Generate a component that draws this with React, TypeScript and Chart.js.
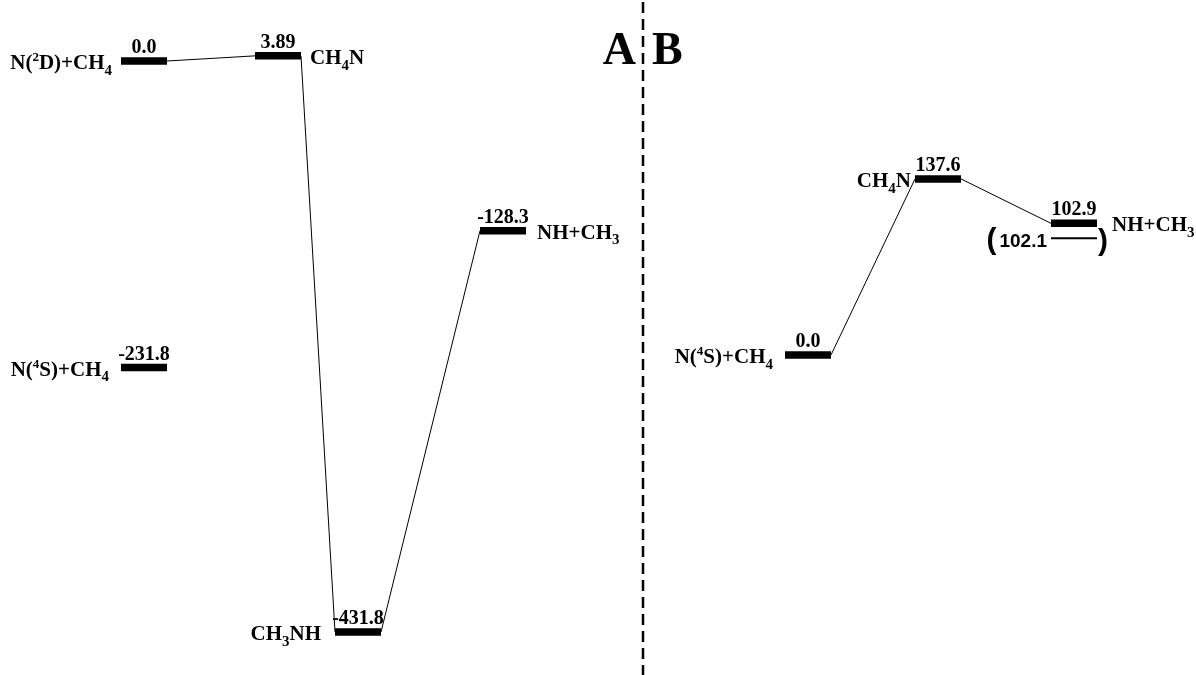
import React, { useEffect, useRef } from "react";
import { Chart, registerables } from "chart.js";

Chart.register(...registerables);

// ---------- DATA ----------
// Panel A: N(2D)+CH4 surface (energies in kJ/mol)
const speciesA = ["N(^2D)+CH_4", "CH_4N", "CH_3NH", "NH+CH_3", "N(^4S)+CH_4"];
const energiesA = [0.0, 3.89, -431.8, -128.3, -231.8];
const energyLabelsA = ["0.0", "3.89", "-431.8", "-128.3", "-231.8"];
const pathA = [[0, 1], [1, 2], [2, 3]];

// Panel B: N(4S)+CH4 surface
const speciesB = ["N(^4S)+CH_4", "CH_4N", "NH+CH_3"];
const energiesB = [0.0, 137.6, 102.9];
const energyLabelsB = ["0.0", "137.6", "102.9"];
const pathB = [[0, 1], [1, 2]];
const altEnergyB = 102.1; // value in parentheses for NH+CH3
const altLabelB = "102.1";

const panelNames = ["A", "B"];

// ---------- LAYOUT (reaction coordinate positions, styling) ----------
const rcA = [144, 278, 358, 503, 144];
const sideA = ["left", "right", "left", "right", "left"];
const rcB = [808, 938, 1074];
const sideB = ["left", "left", "right"];
const gapA = [9, 9, 14, 11, 12];
const gapB = [12, 4, 15];
const halfW = 23;
const dividerRc = 643;
const xRange = [0, 1196];
const yARange = [-464.3, 46.13];
const yBRange = [-250.2, 277.5];
const altOffsetPx = 14;

const SERIF = '"Liberation Serif", "Times New Roman", serif';
const SANS = '"Liberation Sans", Arial, sans-serif';

type Part = { t: string; k: "n" | "sub" | "sup" };
function parse(s: string): Part[] {
  const parts: Part[] = [];
  let buf = "";
  for (let i = 0; i < s.length; i++) {
    const c = s[i];
    if ((c === "_" || c === "^") && i + 1 < s.length) {
      if (buf) parts.push({ t: buf, k: "n" });
      buf = "";
      parts.push({ t: s[i + 1], k: c === "_" ? "sub" : "sup" });
      i++;
    } else buf += c;
  }
  if (buf) parts.push({ t: buf, k: "n" });
  return parts;
}

function drawRich(ctx: CanvasRenderingContext2D, s: string, x: number, y: number, align: string, size: number) {
  const parts = parse(s);
  const fontOf = (p: Part) => {
    const sz = p.k === "n" ? size : p.k === "sub" ? Math.round(size * 0.7) : Math.round(size * 0.6);
    return `bold ${sz}px ${SERIF}`;
  };
  let total = 0;
  for (const p of parts) {
    ctx.font = fontOf(p);
    total += ctx.measureText(p.t).width;
  }
  let cx = align === "right" ? x - total : x;
  ctx.textAlign = "left";
  ctx.textBaseline = "alphabetic";
  for (const p of parts) {
    ctx.font = fontOf(p);
    const dy = p.k === "sub" ? size * 0.27 : p.k === "sup" ? -size * 0.36 : 0;
    ctx.fillText(p.t, cx, y + dy);
    cx += ctx.measureText(p.t).width;
  }
}

const diagramPlugin = {
  id: "diagramText",
  afterDatasetsDraw(chart: any) {
    const ctx: CanvasRenderingContext2D = chart.ctx;
    const sx = chart.scales.x;
    const yA = chart.scales.yA;
    const yB = chart.scales.yB;
    ctx.save();
    ctx.fillStyle = "#000";
    ctx.strokeStyle = "#000";

    // dashed divider
    const dx = sx.getPixelForValue(dividerRc);
    ctx.lineWidth = 2.5;
    ctx.setLineDash([11, 6]);
    ctx.beginPath();
    ctx.moveTo(dx, 2);
    ctx.lineTo(dx, chart.height);
    ctx.stroke();
    ctx.setLineDash([]);

    // panel letters
    ctx.font = `bold 46px ${SERIF}`;
    ctx.textBaseline = "alphabetic";
    ctx.textAlign = "right";
    ctx.fillText(panelNames[0], dx - 7, 64);
    ctx.textAlign = "left";
    ctx.fillText(panelNames[1], dx + 9, 64);

    const drawPanel = (species: string[], energies: number[], labels: string[], rc: number[], side: string[], gap: number[], ys: any) => {
      species.forEach((sp, i) => {
        const cx = sx.getPixelForValue(rc[i]);
        const py = ys.getPixelForValue(energies[i]);
        // energy value
        ctx.font = `bold 20px ${SERIF}`;
        ctx.textAlign = "center";
        ctx.textBaseline = "alphabetic";
        ctx.fillText(labels[i], cx, py - 8);
        // species name
        if (side[i] === "left") {
          drawRich(ctx, sp, cx - halfW - gap[i], py + 8, "right", 21);
        } else {
          drawRich(ctx, sp, cx + halfW + gap[i], py + 8, "left", 21);
        }
      });
    };
    drawPanel(speciesA, energiesA, energyLabelsA, rcA, sideA, gapA, yA);
    drawPanel(speciesB, energiesB, energyLabelsB, rcB, sideB, gapB, yB);

    // alternative (parenthesised) level for NH+CH3 in panel B
    const cx = sx.getPixelForValue(rcB[2]);
    const ly = yB.getPixelForValue(altEnergyB) + altOffsetPx;
    ctx.lineWidth = 2;
    ctx.beginPath();
    ctx.moveTo(cx - halfW, ly);
    ctx.lineTo(cx + halfW, ly);
    ctx.stroke();
    ctx.font = `bold 19px ${SANS}`;
    ctx.textAlign = "right";
    const tx = cx - halfW - 4;
    ctx.fillText(altLabelB, tx, ly + 9);
    const tw = ctx.measureText(altLabelB).width;
    ctx.font = `bold 30px ${SANS}`;
    ctx.fillText("(", tx - tw - 3, ly + 11);
    ctx.textAlign = "left";
    ctx.fillText(")", cx + halfW + 1, ly + 12);

    ctx.restore();
  },
};

function levelDatasets(energies: number[], rc: number[], axis: string) {
  return energies.map((e, i) => ({
    data: [
      { x: rc[i] - halfW, y: e },
      { x: rc[i] + halfW, y: e },
    ],
    yAxisID: axis,
    borderColor: "#000",
    borderWidth: 7.5,
    borderCapStyle: "butt",
    pointRadius: 0,
    fill: false,
  }));
}

function pathDatasets(energies: number[], rc: number[], path: number[][], axis: string) {
  return path.map(([a, b]) => {
    const dir = rc[b] >= rc[a] ? 1 : -1;
    return {
      data: [
        { x: rc[a] + dir * halfW, y: energies[a] },
        { x: rc[b] - dir * halfW, y: energies[b] },
      ],
      yAxisID: axis,
      borderColor: "#000",
      borderWidth: 1,
      pointRadius: 0,
      fill: false,
    };
  });
}

export default function App() {
  const ref = useRef<HTMLCanvasElement | null>(null);
  useEffect(() => {
    if (!ref.current) return;
    const chart = new Chart(ref.current, {
      type: "line",
      data: {
        datasets: [
          ...pathDatasets(energiesA, rcA, pathA, "yA"),
          ...pathDatasets(energiesB, rcB, pathB, "yB"),
          ...levelDatasets(energiesA, rcA, "yA"),
          ...levelDatasets(energiesB, rcB, "yB"),
        ] as any,
      },
      options: {
        animation: false,
        responsive: false,
        maintainAspectRatio: false,
        layout: { padding: 0 },
        plugins: { legend: { display: false }, tooltip: { enabled: false } },
        elements: { line: { tension: 0 } },
        scales: {
          x: { type: "linear", min: xRange[0], max: xRange[1], display: false },
          yA: { type: "linear", min: yARange[0], max: yARange[1], display: false },
          yB: { type: "linear", min: yBRange[0], max: yBRange[1], display: false },
        },
      },
      plugins: [diagramPlugin],
    });
    return () => chart.destroy();
  }, []);
  return (
    <div style={{ position: "absolute", left: 0, top: 0, width: 1196, height: 675, background: "#fff" }}>
      <canvas ref={ref} width={1196} height={675} style={{ display: "block" }} />
    </div>
  );
}
